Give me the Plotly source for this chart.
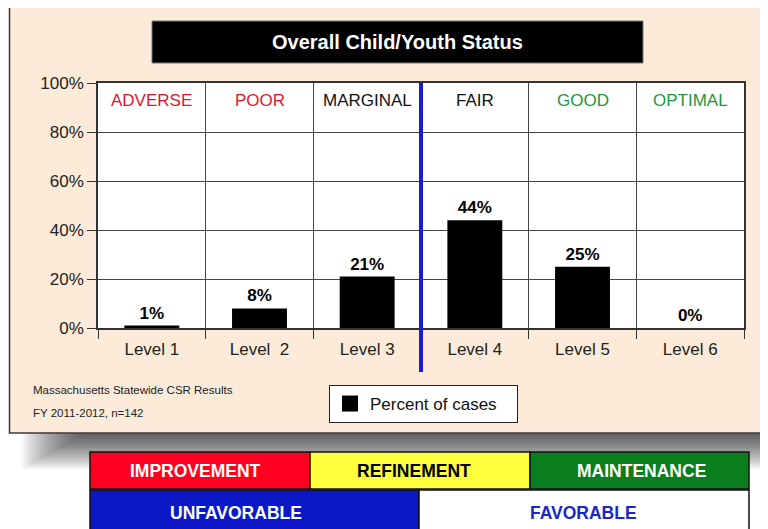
import plotly.graph_objects as go

# ---- data ----
levels = ["Level 1", "Level\u00a0 2", "Level 3", "Level 4", "Level 5", "Level 6"]
percent = [1, 8, 21, 44, 25, 0]
percent_labels = ["%d%%" % v for v in percent]
status_labels = ["ADVERSE", "POOR", "MARGINAL", "FAIR", "GOOD", "OPTIMAL"]
status_colors = ["#e0162e", "#e0162e", "#111111", "#111111", "#23963a", "#23963a"]
y_ticks = [0, 20, 40, 60, 80, 100]
series_name = "Percent of cases"
title_text = "Overall Child/Youth Status"
note_lines = ["Massachusetts Statewide CSR Results", "FY 2011-2012, n=142"]
zone_row1 = ["IMPROVEMENT", "REFINEMENT", "MAINTENANCE"]
zone_row2 = ["UNFAVORABLE", "FAVORABLE"]

OFF = 8  # page body margin
W, H = 768 - OFF, 529 - OFF
# plot area in page pixels
L, R, T, B = 98, 744, 83, 328
FONT = "Liberation Sans, Arial, Helvetica, sans-serif"


def X(px):
    return (px - L) / (R - L)


def Y(py):
    return (B - py) / (B - T)


fig = go.Figure()
fig.add_trace(go.Bar(
    x=levels, y=percent, width=0.51, text=percent_labels,
    marker=dict(color="black", line=dict(width=0)),
    texttemplate="<b>%{text}</b>", textposition="outside",
    textfont=dict(size=17, color="black", family=FONT),
    cliponaxis=False, showlegend=False, hoverinfo="skip",
))
fig.add_trace(go.Scatter(
    x=[None], y=[None], mode="markers", name=series_name,
    marker=dict(symbol="square", size=16, color="black"),
))

shapes = []
# soft drop shadow of panel
N = 24
for i in range(1, N + 1):
    shapes.append(dict(type="rect", xref="paper", yref="paper", layer="below",
                       x0=X(84 - 2.6 * i), x1=X(830), y0=Y(60), y1=Y(433 + 1.5 * i),
                       fillcolor="rgba(0,0,0,0.036)", line=dict(width=0)))
# peach panel
shapes.append(dict(type="rect", xref="paper", yref="paper", layer="below",
                   x0=X(9.5), x1=X(830), y0=Y(4), y1=Y(433),
                   fillcolor="#fdebd9", line=dict(color="#3a3a3a", width=1.5)))
# white plot area
shapes.append(dict(type="rect", xref="paper", yref="paper", layer="below",
                   x0=0, x1=1, y0=0, y1=1, fillcolor="white", line=dict(width=0)))
# title box
shapes.append(dict(type="rect", xref="paper", yref="paper",
                   x0=X(152), x1=X(643), y0=Y(21), y1=Y(63),
                   fillcolor="black", line=dict(color="#777", width=1)))
# blue divider between level 3 and 4
shapes.append(dict(type="line", xref="x", yref="paper", x0=2.5, x1=2.5,
                   y0=Y(372), y1=1, line=dict(color="#1a1adc", width=4)))

# zone boxes
row1 = [(90, 310, "#ff0020", "white"), (310, 530, "#ffff3c", "black"),
        (530, 749, "#0a7d1e", "white")]
row2 = [(90, 419, "#0c18c8", "white"), (419, 749, "#ffffff", "#1b26c6")]
row1_text_x = [195, 414, 641]
row2_text_x = [236, 583]

annotations = []
for (x0, x1, fc, tc), label, tx in zip(row1, zone_row1, row1_text_x):
    shapes.append(dict(type="rect", xref="paper", yref="paper",
                       x0=X(x0), x1=X(x1), y0=Y(452), y1=Y(489),
                       fillcolor=fc, line=dict(color="#111", width=1.5)))
    annotations.append(dict(text="<b>%s</b>" % label, xref="paper", yref="paper",
                            x=X(tx), y=Y(471), xanchor="center", yanchor="middle",
                            showarrow=False,
                            font=dict(size=17.5, color=tc, family=FONT)))
for (x0, x1, fc, tc), label, tx in zip(row2, zone_row2, row2_text_x):
    shapes.append(dict(type="rect", xref="paper", yref="paper",
                       x0=X(x0), x1=X(x1), y0=Y(490), y1=Y(545),
                       fillcolor=fc, line=dict(color="#111", width=1.5)))
    annotations.append(dict(text="<b>%s</b>" % label, xref="paper", yref="paper",
                            x=X(tx), y=Y(513), xanchor="center", yanchor="middle",
                            showarrow=False,
                            font=dict(size=17.5, color=tc, family=FONT)))

# title text
annotations.append(dict(text="<b>%s</b>" % title_text, xref="paper", yref="paper",
                        x=X(397.5), y=Y(42), xanchor="center", yanchor="middle",
                        showarrow=False,
                        font=dict(size=20, color="white", family=FONT)))
# status headers
for lvl, lab, col in zip(levels, status_labels, status_colors):
    annotations.append(dict(text=lab, xref="x", yref="paper", x=lvl, y=Y(100),
                            xanchor="center", yanchor="middle", showarrow=False,
                            font=dict(size=17, color=col, family=FONT)))
# notes
for line, py in zip(note_lines, [390, 413]):
    annotations.append(dict(text=line, xref="paper", yref="paper", x=X(31), y=Y(py),
                            xanchor="left", yanchor="middle", showarrow=False,
                            font=dict(size=11.5, color="#222", family=FONT)))

fig.update_layout(
    width=W, height=H,
    margin=dict(l=L - OFF, r=W - (R - OFF), t=T - OFF, b=H - (B - OFF), pad=0),
    paper_bgcolor="white", plot_bgcolor="rgba(0,0,0,0)",
    font=dict(family=FONT, color="#222"),
    shapes=shapes, annotations=annotations,
    legend=dict(x=X(329), y=Y(385), xanchor="left", yanchor="top",
                orientation="h", entrywidth=142, entrywidthmode="pixels",
                bgcolor="white", bordercolor="#222", borderwidth=1,
                font=dict(size=17, color="#111", family=FONT)),
    xaxis=dict(type="category", tickson="boundaries", ticks="outside", ticklen=9,
               ticklabelstandoff=5,
               tickcolor="#333", showgrid=True, gridcolor="#444", gridwidth=1,
               showline=True, linecolor="#333", linewidth=1.5, mirror=True,
               tickfont=dict(size=17, color="#222", family=FONT), fixedrange=True),
    yaxis=dict(range=[0, 100], tickvals=y_ticks, ticktext=["%d%%" % v for v in y_ticks],
               ticks="outside", ticklen=9, tickcolor="#333", showgrid=True,
               gridcolor="#444", gridwidth=1, zeroline=False, showline=True,
               linecolor="#333", linewidth=1.5, mirror=True,
               tickfont=dict(size=17, color="#222", family=FONT), fixedrange=True),
)

fig.write_html("out.html")
